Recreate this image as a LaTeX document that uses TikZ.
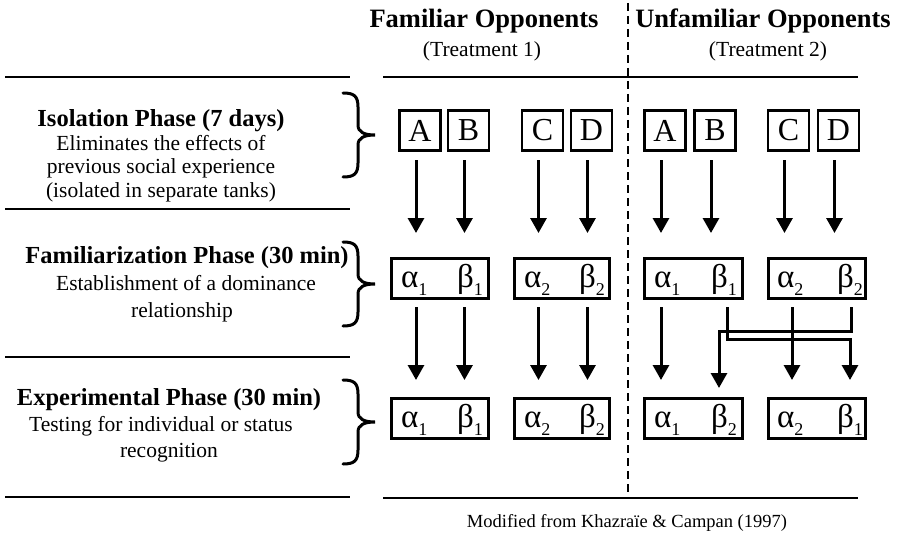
\documentclass[tikz,border=0pt]{standalone}
\usepackage{fontspec}
\setmainfont{Liberation Serif}
\usetikzlibrary{arrows.meta,calc}
\newcommand\sy[2]{#1\raisebox{-0.26em}{\fontsize{18}{18}\selectfont #2}}
\begin{document}
\begin{tikzpicture}[x=1pt,y=-1pt,
  rule/.style={line width=2.8pt},
  box/.style={draw, line width=2.7pt, inner sep=0pt, minimum height=40.3pt},
  boxl/.style={box, font=\fontsize{32}{32}\selectfont, minimum width=40.8pt},
  sym/.style={font=\fontsize{33}{33}\selectfont, inner sep=0pt, anchor=base west},
  arr/.style={line width=3pt, -{Triangle[width=16pt,length=15pt]}},
  brc/.style={line width=3pt, line cap=round},
  dsh/.style={line width=2pt, dash pattern=on 8pt off 5pt},
  head/.style={font=\bfseries\fontsize{24.5}{26}\selectfont, anchor=base, inner sep=0pt},
  body/.style={font=\fontsize{21.5}{23}\selectfont, anchor=base, inner sep=0pt},
  title/.style={font=\bfseries\fontsize{26.5}{28}\selectfont, anchor=base, inner sep=0pt}]
\useasboundingbox (0,0) rectangle (903,535);
\fill[white] (0,0) rectangle (903,535);

% rules
\draw[rule] (5,77) -- (350,77);
\draw[rule] (5,209) -- (350,209);
\draw[rule] (5,357) -- (350,357);
\draw[rule] (5,497) -- (350,497);
\draw[rule] (383,77) -- (858,77);
\draw[rule] (383,498) -- (858,498);
\draw[dsh] (628,3) -- (628,498);

% titles
\node[title] (t1) at (484,28) {Familiar Opponents};
\node[body] (t1s) at (482,57) {(Treatment 1)};
\node[title] (t2) at (763,28) {Unfamiliar Opponents};
\node[body] (t2s) at (768,57) {(Treatment 2)};

% left texts
\node[head] (iso) at (161,127) {Isolation Phase (7 days)};
\node[body] (iso1) at (161,150) {Eliminates the effects of};
\node[body] (iso2) at (161,173) {previous social experience};
\node[body] (iso3) at (161,197) {(isolated in separate tanks)};
\node[head] (fam) at (187,263) {Familiarization Phase (30 min)};
\node[body] (fam1) at (186,290) {Establishment of a dominance};
\node[body] (fam2) at (182,317) {relationship};
\node[head] (exp) at (169,405) {Experimental Phase (30 min)};
\node[body] (exp1) at (161,431) {Testing for individual or status};
\node[body] (exp2) at (169,457) {recognition};

% braces
\foreach \yy in {93,242,380}{
  \draw[brc, shift={(343,\yy)}] (0,0) .. controls (11,0) and (15,3) .. (15,14) -- (15,32)
    .. controls (15,39) and (21,42) .. (32,42) .. controls (21,42) and (15,45) .. (15,52)
    -- (15,70) .. controls (15,81) and (11,84) .. (0,84);
}

% row 1
\node[boxl] (fA) at (420,130.5) {A};
\node[boxl] (fB) at (468.5,130.5) {B};
\node[boxl] (fC) at (542.5,130.5) {C};
\node[boxl] (fD) at (591.5,130.5) {D};
\node[boxl] (uA) at (665,130.5) {A};
\node[boxl] (uB) at (715,130.5) {B};
\node[boxl] (uC) at (788.5,130.5) {C};
\node[boxl] (uD) at (838.5,130.5) {D};

% row 2
\node[box, minimum width=97.3pt] (f2L) at (440,278.5) {};
\node[box, minimum width=95.3pt] (f2R) at (562,278.5) {};
\node[box, minimum width=98.3pt] (u2L) at (693.5,278.5) {};
\node[box, minimum width=97.3pt] (u2R) at (817,278.5) {};
\node[sym] (fa1) at (401,287) {\sy{α}{1}};
\node[sym] (fb1) at (457,287) {\sy{β}{1}};
\node[sym] (fa2) at (524,287) {\sy{α}{2}};
\node[sym] (fb2) at (579,287) {\sy{β}{2}};
\node[sym] (ua1) at (654,287) {\sy{α}{1}};
\node[sym] (ub1) at (711,287) {\sy{β}{1}};
\node[sym] (ua2) at (777,287) {\sy{α}{2}};
\node[sym] (ub2) at (837,287) {\sy{β}{2}};

% row 3
\node[box, minimum width=97.3pt] (f3L) at (440,418.5) {};
\node[box, minimum width=95.3pt] (f3R) at (562,418.5) {};
\node[box, minimum width=98.3pt] (u3L) at (693.5,418.5) {};
\node[box, minimum width=97.3pt] (u3R) at (817,418.5) {};
\node[sym] (fa1r) at (401,427) {\sy{α}{1}};
\node[sym] (fb1r) at (457,427) {\sy{β}{1}};
\node[sym] (fa2r) at (524,427) {\sy{α}{2}};
\node[sym] (fb2r) at (579,427) {\sy{β}{2}};
\node[sym] (ua1r) at (654,427) {\sy{α}{1}};
\node[sym] (ub2r) at (711,427) {\sy{β}{2}};
\node[sym] (ua2r) at (777,427) {\sy{α}{2}};
\node[sym] (ub1r) at (837,427) {\sy{β}{1}};

% arrows row 1 -> row 2
\foreach \s/\t in {fA/f2L,fB/f2L,fC/f2R,fD/f2R,uA/u2L,uB/u2L,uC/u2R,uD/u2R}{
  \draw[arr] ($(\s.south)+(-4,8)$) -- ($(\s.south |- \t.north)+(-4,-24)$);
}
% arrows row 2 -> row 3 (familiar)
\foreach \s/\a/\b in {fA/f2L/f3L,fB/f2L/f3L,fC/f2R/f3R,fD/f2R/f3R}{
  \draw[arr] ($(\s.south |- \a.south)+(-4,7)$) -- ($(\s.south |- \b.north)+(-4,-17)$);
}
% arrows row 2 -> row 3 (unfamiliar)
\draw[arr] ($(ua1.west |- u2L.south)+(7,7)$) -- ($(ua1r.west |- u3L.north)+(7,-17)$);
\draw[arr] ($(ua2.west |- u2R.south)+(15,7)$) -- ($(ua2r.west |- u3R.north)+(15,-17)$);
\draw[arr] ($(ub1.west |- u2L.south)+(16,7)$) |- ($(ub1r.west |- u2L.south)+(13,39)$)
  -- ($(ub1r.west |- u3R.north)+(13,-17)$);
\draw[arr] ($(ub2.west |- u2R.south)+(14,7)$) |- ($(ub2r.west |- u2R.south)+(8,31)$)
  -- ($(ub2r.west |- u3L.north)+(8,-9)$);

% source
\node[font=\fontsize{18.5}{20}\selectfont, anchor=base, inner sep=0pt] (src) at (627,527)
  {Modified from Khazraïe \& Campan (1997)};
\end{tikzpicture}
\end{document}
